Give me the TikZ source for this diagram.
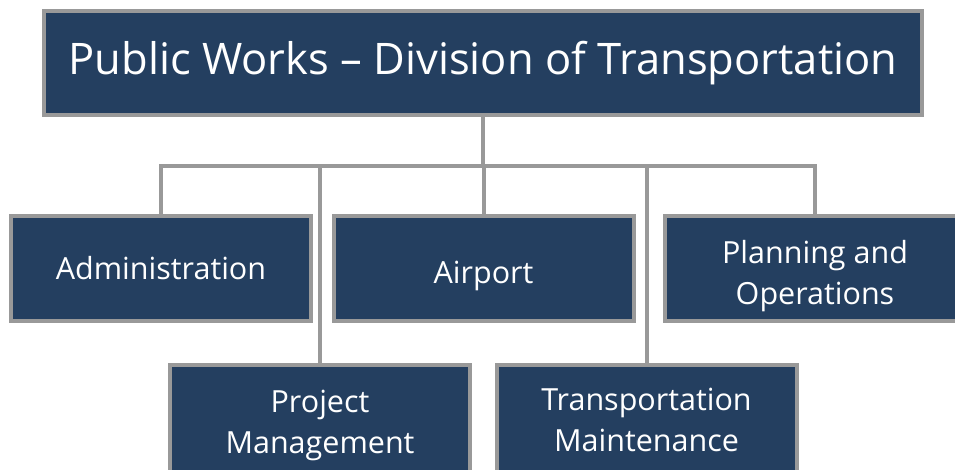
\documentclass[tikz,border=0pt]{standalone}
\usepackage{fontspec}
\setmainfont{Open Sans}
\definecolor{navy}{HTML}{243F60}
\definecolor{edge}{HTML}{999999}
\tikzset{
  unitbox/.style={draw=edge, fill=navy, line width=4pt, inner sep=0pt,
    minimum width=300pt, minimum height=105pt},
  unittext/.style={text=white, align=center, inner sep=0pt, font=\fontsize{30.5}{41}\selectfont},
  topbox/.style={unitbox, text=white, minimum width=878pt, minimum height=104pt, font=\fontsize{43.5}{50}\selectfont},
  link/.style={draw=edge, line width=4pt, line join=miter}
}
\begin{document}
\begin{tikzpicture}[x=1pt,y=-1pt]
\useasboundingbox (0,0) rectangle (955,469);
\clip (0,0) rectangle (955,469);
\fill[white] (0,0) rectangle (955,469);
\coordinate (bus) at (0,166);
\node[topbox] (top) at (483,63) {Public Works – Division of Transportation};
\node[unitbox] (admin) at (161,268.5) {};
\node[unitbox] (airport) at (483.5,268.5) {};
\node[unitbox] (plan) at (815,268.5) {};
\node[unitbox, minimum height=108pt] (proj) at (320,419) {};
\node[unitbox, minimum height=108pt] (tm) at (646.5,419) {};
\node[unittext, yshift=-3pt] (admin-t) at (admin.center) {\strut Administration};
\node[unittext, yshift=-7pt] (airport-t) at (airport.center) {\strut Airport};
\node[unittext, yshift=-8pt] (plan-t) at (plan.center) {Planning and\\Operations};
\node[unittext, yshift=-6pt] (proj-t) at (proj.center) {Project\\Management};
\node[unittext, yshift=-1pt] (tm-t) at (tm.center) {Transportation\\Maintenance};
\draw[link] (top.south) -- (top.south |- bus);
\draw[link] (admin.north) -- (admin.north |- bus) -- (plan.north |- bus) -- (plan.north);
\draw[link] (airport.north) -- (airport.north |- bus);
\draw[link] (proj.north) -- (proj.north |- bus);
\draw[link] (tm.north) -- (tm.north |- bus);
\end{tikzpicture}
\end{document}
